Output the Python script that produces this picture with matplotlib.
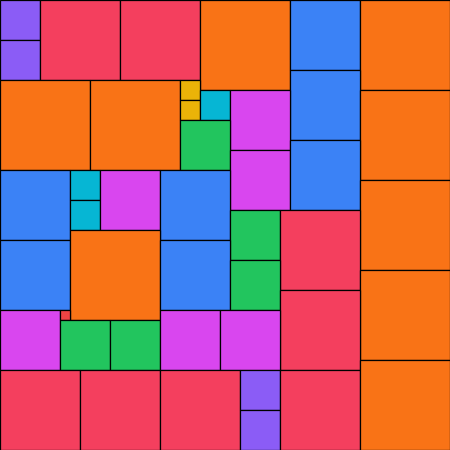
import matplotlib
matplotlib.use("Agg")
import matplotlib.pyplot as plt
from matplotlib.patches import Rectangle

# tiles: group, left, top, width, height (units of the 450 square)
groups = ["purple", "purple", "red", "red", "orange", "blue", "orange", "blue",
          "orange", "orange", "orange", "yellow", "yellow", "cyan", "magenta",
          "green", "magenta", "blue", "orange", "blue", "cyan", "cyan",
          "magenta", "blue", "green", "red", "blue", "orange", "blue", "green",
          "orange", "red", "magenta", "red2", "green", "green", "magenta",
          "magenta", "red", "red", "red", "purple", "purple", "red", "orange"]
left = [0, 0, 40, 120, 200, 290, 360, 290,
        360, 0, 90, 180, 180, 200, 230,
        180, 230, 290, 360, 0, 70, 70,
        100, 160, 230, 280, 0, 70, 160, 230,
        360, 280, 0, 60, 60, 110, 160,
        220, 0, 80, 160, 240, 240, 280, 360]
top = [0, 40, 0, 0, 0, 0, 0, 70,
       90, 80, 80, 80, 100, 90, 90,
       120, 150, 140, 180, 170, 170, 200,
       170, 170, 210, 210, 240, 230, 240, 260,
       270, 290, 310, 310, 320, 320, 310,
       310, 370, 370, 370, 370, 410, 370, 360]
width = [40, 40, 80, 80, 90, 70, 90, 70,
         90, 90, 90, 20, 20, 30, 60,
         50, 60, 70, 90, 70, 30, 30,
         60, 70, 50, 80, 70, 90, 70, 50,
         90, 80, 60, 10, 50, 50, 60,
         60, 80, 80, 80, 40, 40, 80, 90]
height = [40, 40, 80, 80, 90, 70, 90, 70,
          90, 90, 90, 20, 20, 30, 60,
          50, 60, 70, 90, 70, 30, 30,
          60, 70, 50, 80, 70, 90, 70, 50,
          90, 80, 60, 10, 50, 50, 60,
          60, 80, 80, 80, 40, 40, 80, 90]

palette = {"purple": "#8b5cf6", "red": "#f43f5e", "red2": "#ef4444",
           "orange": "#f97316", "blue": "#3b82f6", "yellow": "#eab308",
           "cyan": "#06b6d4", "magenta": "#d946ef", "green": "#22c55e"}

fig = plt.figure(figsize=(4.5, 4.5), dpi=100)
ax = fig.add_axes([0, 0, 1, 1])
for g, x, y, w, h in zip(groups, left, top, width, height):
    ax.add_patch(Rectangle((x, y), w, h, facecolor=palette[g],
                           edgecolor="black", linewidth=0.9))
ax.set_xlim(0, 450)
ax.set_ylim(450, 0)
ax.axis("off")
fig.savefig("out.png", dpi=100)
